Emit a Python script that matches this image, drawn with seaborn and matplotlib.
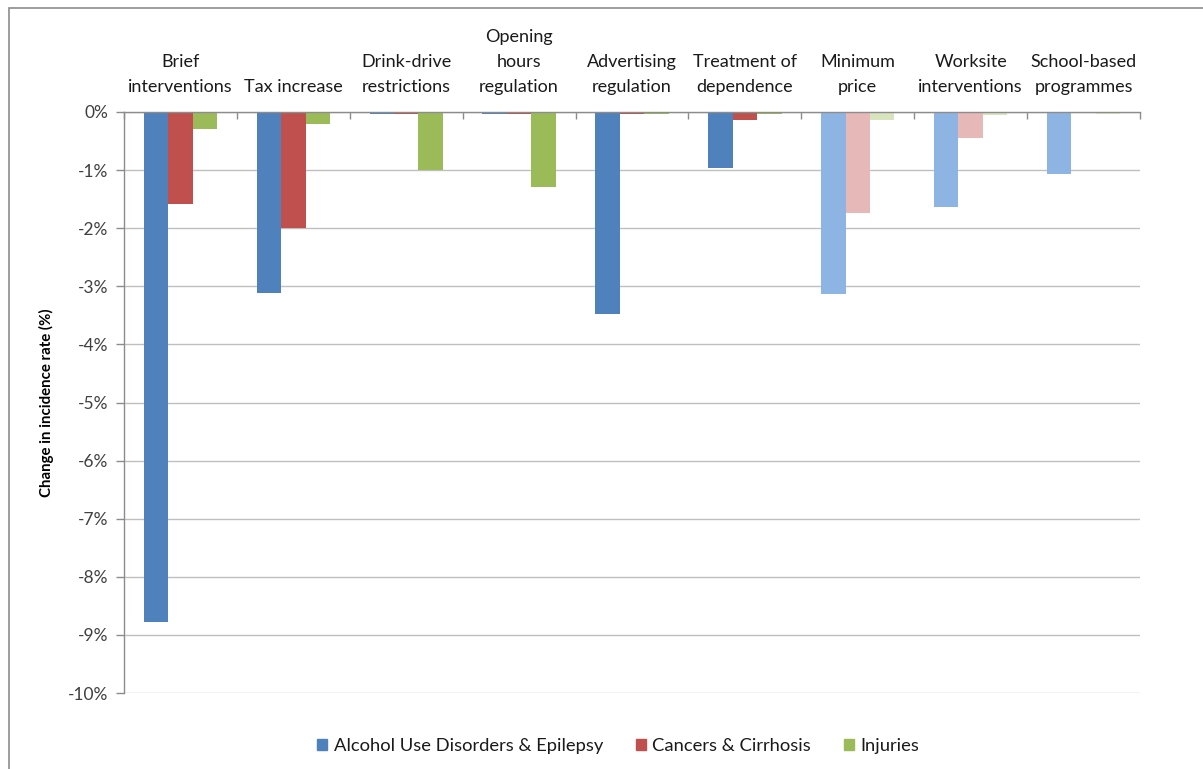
import matplotlib
matplotlib.use("Agg")
import matplotlib.pyplot as plt
import matplotlib.patches as mpatches
from matplotlib.ticker import FuncFormatter, FixedLocator
import seaborn as sns
import pandas as pd

# Interventions (x categories) and modelled change in incidence rate (%)
interventions = [
    "Brief\ninterventions", "Tax increase", "Drink-drive\nrestrictions",
    "Opening\nhours\nregulation", "Advertising\nregulation",
    "Treatment of\ndependence", "Minimum\nprice", "Worksite\ninterventions",
    "School-based\nprogrammes",
]
outcomes = ["Alcohol Use Disorders & Epilepsy", "Cancers & Cirrhosis", "Injuries"]
alcohol_epilepsy = [-8.78, -3.11, -0.03, -0.03, -3.47, -0.97, -3.13, -1.64, -1.07]
cancers_cirrhosis = [-1.58, -2.00, -0.03, -0.03, -0.03, -0.13, -1.74, -0.45, 0.0]
injuries = [-0.30, -0.20, -1.00, -1.29, -0.03, -0.03, -0.14, -0.05, -0.04]
# Interventions drawn in a lighter shade
light_interventions = ["Minimum\nprice", "Worksite\ninterventions", "School-based\nprogrammes"]

dark_colors = ["#4F81BD", "#C0504D", "#9BBB59"]
light_colors = ["#8EB4E3", "#E6B9B8", "#D7E4BD"]

df = pd.DataFrame({
    "intervention": interventions * 3,
    "outcome": [o for o in outcomes for _ in interventions],
    "change": alcohol_epilepsy + cancers_cirrhosis + injuries,
})

sns.set_style("white")
plt.rcParams["font.family"] = ["Lato", "DejaVu Sans"]

fig = plt.figure(figsize=(12.03, 7.69), dpi=100)
ax = fig.add_axes([124 / 1203, 1 - 693 / 769, (1140 - 124) / 1203, (693 - 112) / 769])

sns.barplot(data=df, x="intervention", y="change", hue="outcome",
            order=interventions, hue_order=outcomes, palette=dark_colors,
            width=0.65, saturation=1, ax=ax, legend=False, linewidth=0)

for cont, light in zip(ax.containers, light_colors):
    for cat, bar in zip(interventions, cont):
        if cat in light_interventions:
            bar.set_facecolor(light)

ax.set_ylim(-10, 0)
ax.set_xlim(-0.5, len(interventions) - 0.5)
ax.set_yticks(range(-10, 1))
ax.yaxis.set_major_formatter(FuncFormatter(lambda v, p: f"{int(round(v))}%"))

grid_c = "#BFBFBF"
axis_c = "#8C8C8C"
ax.yaxis.grid(True, color=grid_c, linewidth=1)
ax.set_axisbelow(True)
for s in ["right", "bottom"]:
    ax.spines[s].set_visible(False)
ax.spines["top"].set_color(axis_c)
ax.spines["left"].set_color(axis_c)
ax.spines["top"].set_linewidth(1)
ax.spines["left"].set_linewidth(1)

ax.xaxis.tick_top()
ax.xaxis.set_minor_locator(FixedLocator([i - 0.5 for i in range(len(interventions) + 1)]))
ax.tick_params(axis="x", which="major", length=0, pad=12, labelsize=13, labelcolor="#1a1a1a")
ax.tick_params(axis="x", which="minor", top=True, direction="in", length=5, color=axis_c, width=1)
ax.tick_params(axis="y", which="major", left=True, direction="out", length=6, color=axis_c,
               width=1, labelsize=12.5, labelcolor="#404040", pad=5)
for lab in ax.get_xticklabels():
    lab.set_verticalalignment("bottom")
    lab.set_horizontalalignment("center")
    lab.set_multialignment("center")
    lab.set_linespacing(1.7)
ax.set_xlabel("")
ax.set_ylabel("Change in incidence rate (%)", fontsize=10.8, fontweight="bold", color="#000000")
ax.yaxis.set_label_coords(-0.069, 0.5)

handles = [mpatches.Patch(color=c, label=o) for c, o in zip(dark_colors, outcomes)]
fig.legend(handles=handles, loc="center", bbox_to_anchor=(0.514, 1 - 746 / 769), ncol=3,
           frameon=False, fontsize=13.2, handlelength=0.55, handleheight=0.55,
           handletextpad=0.35, columnspacing=1.8, labelcolor="#1a1a1a")

# chart outline
fig.patches.append(mpatches.Rectangle((9 / 1203, -0.1), 1.2, 1 - 8 / 769 + 0.1,
                                      transform=fig.transFigure, fill=False,
                                      edgecolor="#8C8C8C", linewidth=1.2))

fig.savefig("out.png", dpi=100)
